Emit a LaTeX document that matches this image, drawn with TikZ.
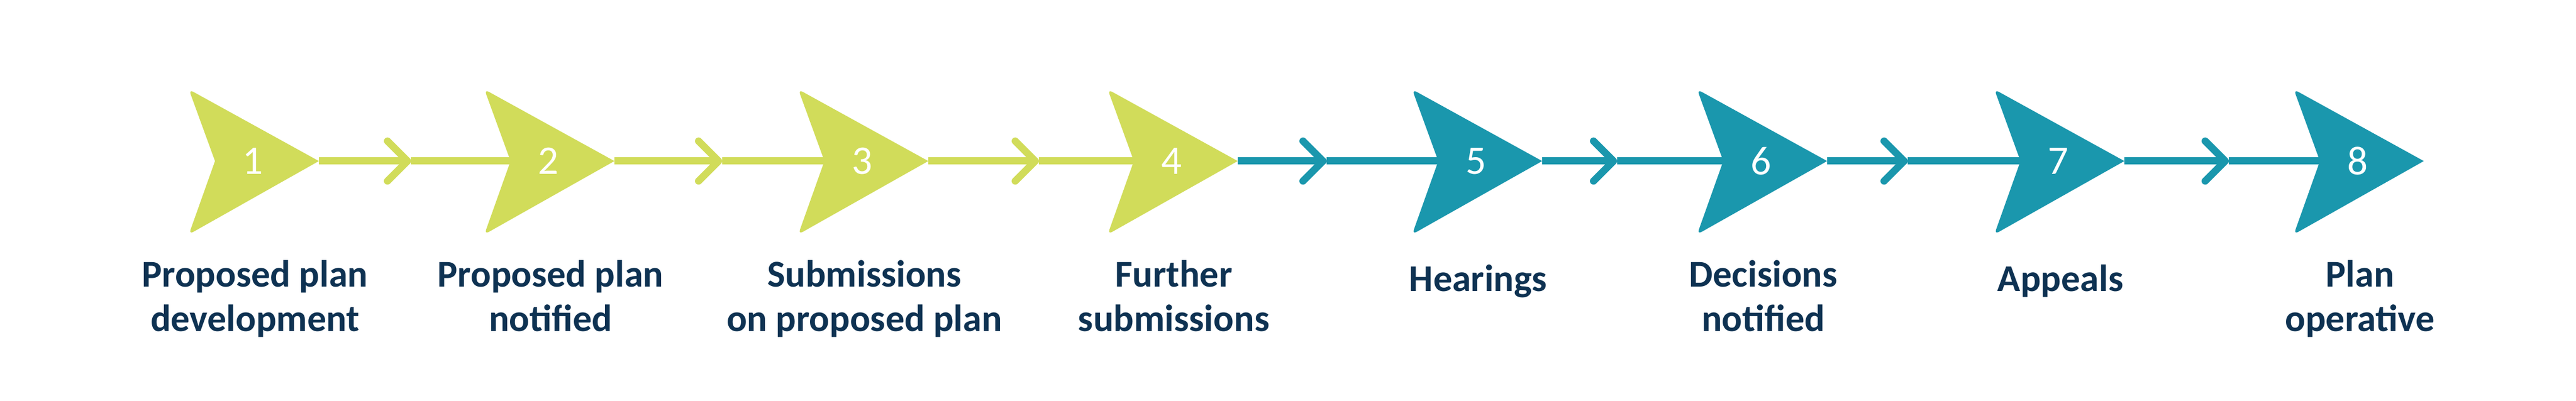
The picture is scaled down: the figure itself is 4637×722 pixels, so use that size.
\documentclass[tikz,border=0pt]{standalone}
\usepackage{fontspec}
\setmainfont{Carlito}
\usetikzlibrary{arrows.meta,positioning}
\definecolor{plangreen}{RGB}{209,220,90}
\definecolor{planteal}{RGB}{26,151,173}
\definecolor{plannavy}{RGB}{14,50,82}
\tikzset{>={Straight Barb[length=3.6mm,width=7.2mm,round]}}

\begin{document}
\begin{tikzpicture}[x=0.1mm, y=-0.1mm,
    num/.style={text=white, font=\fontsize{20.8}{21}\selectfont, inner sep=0pt},
    lbl/.style={text=plannavy, font=\fontsize{19.4}{22.8}\selectfont\bfseries,
      align=center, anchor=north, inner sep=0pt, execute at begin node=\strut},
    link/.style={draw=#1, line width=1.3mm}]
  \fill[white] (0,0) rectangle (4637,722);
  \useasboundingbox (0,0) rectangle (4637,722);

  % the eight stage heads
  \foreach \i/\bx/\col/\txt in {
      1/340/plangreen/{Proposed plan\\development},
      2/872/plangreen/{Proposed plan\\notified},
      3/1437/plangreen/{Submissions\\on proposed plan},
      4/1994/plangreen/{Further\\submissions},
      5/2542/planteal/{Hearings},
      6/3055/planteal/{Decisions\\notified},
      7/3590/planteal/{Appeals},
      8/4129/planteal/{Plan\\operative}}
  {
    \coordinate (notch\i) at (\bx+47,290);
    \coordinate (tip\i) at (\bx+234,290);
    \fill[\col] (notch\i) [rounded corners=0.9mm] -- (\bx,161)
      [sharp corners] -- (tip\i) [rounded corners=0.9mm] -- (\bx,422)
      [sharp corners] -- cycle;
    \node[num] (n\i) at (\bx+115,290) {\i};
    \node[lbl] (l\i) at (\bx+119,468) {\txt};
  }

  % connectors with a chevron half way
  \foreach \i/\j/\cx/\col in {1/2/740/plangreen, 2/3/1300/plangreen,
      3/4/1870/plangreen, 4/5/2388/planteal, 5/6/2911/planteal,
      6/7/3434/planteal, 7/8/4012/planteal}
  {
    \coordinate (c\i) at (\cx,290);
    \draw[link=\col, ->] (tip\i) -- (c\i);
    \draw[link=\col] (c\i) -- (notch\j);
  }
\end{tikzpicture}
\end{document}
